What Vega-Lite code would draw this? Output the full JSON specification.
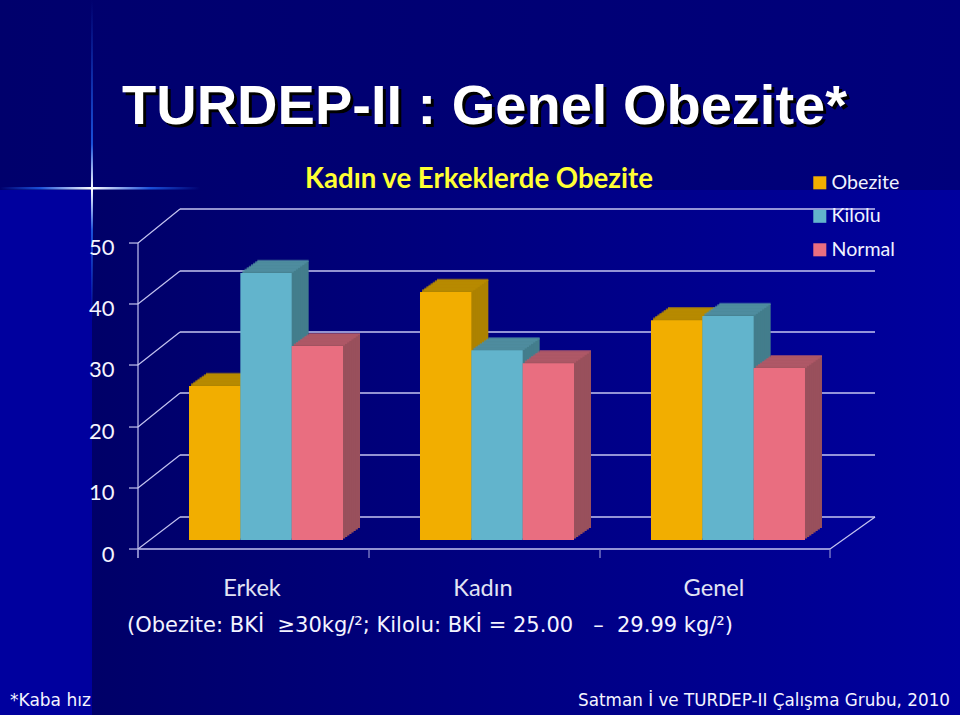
{"$schema":"https://vega.github.io/schema/vega-lite/v6.json","width":960,"height":715,"padding":0,"autosize":{"type":"fit","contains":"padding"},"background":"#000068",
"title":{"text":"TURDEP-II : Genel Obezite*","anchor":"middle","frame":"group","offset":-180,"dx":4.5,"baseline":"alphabetic","font":"Liberation Sans","fontSize":56,"fontWeight":"bold","color":"#ffffff"},
"datasets":{
"bars":[{"group":"Erkek","series":"Obezite","value":25.1},{"group":"Erkek","series":"Kilolu","value":43.5},{"group":"Erkek","series":"Normal","value":31.6},{"group":"Kadın","series":"Obezite","value":40.4},{"group":"Kadın","series":"Kilolu","value":30.9},{"group":"Kadın","series":"Normal","value":28.8},{"group":"Genel","series":"Obezite","value":35.8},{"group":"Genel","series":"Kilolu","value":36.5},{"group":"Genel","series":"Normal","value":28.0}],
"ticks":[{"v":0,"front":-1.47,"back":3.75},{"v":10,"front":8.47,"back":13.84},{"v":20,"front":18.4,"back":23.94},{"v":30,"front":28.5,"back":33.88},{"v":40,"front":38.44,"back":43.81},{"v":50,"front":48.37,"back":53.91}],
"edges":[{"edge":-0.5541},{"edge":0.4459},{"edge":1.4459},{"edge":2.4416}]},
"resolve":{"scale":{"x":"independent","color":"independent"},"axis":{"x":"independent","y":"independent"}},
"layer":[
{"resolve":{"axis":{"x":"independent","y":"independent"}},"layer":[
{"data":{"values":[{"p":"top"}]},"mark":{"type":"rect","fill":{"gradient":"linear","x1":0,"x2":1,"y1":0,"y2":0,"stops":[{"offset":0,"color":"#00006c"},{"offset":1,"color":"#00007c"}]}},"encoding":{"x":{"datum":-1.1515,"type":"quantitative","scale":{"domain":[-1.1515,3.0043],"nice":false,"zero":false},"axis":null},"x2":{"datum":3.0043},"y":{"datum":87.95,"type":"quantitative","scale":{"domain":[-28.5,87.95],"nice":false,"zero":false},"axis":null},"y2":{"datum":57}}},
{"data":{"values":[{"p":"left"}]},"mark":{"type":"rect","fill":"#00009e"},"encoding":{"x":{"datum":-1.1515,"type":"quantitative","scale":{"domain":[-1.1515,3.0043],"nice":false,"zero":false},"axis":null},"x2":{"datum":-0.7532},"y":{"datum":57,"type":"quantitative","scale":{"domain":[-28.5,87.95],"nice":false,"zero":false},"axis":null},"y2":{"datum":-28.5}}},
{"data":{"values":[{"p":"main"}]},"mark":{"type":"rect","fill":{"gradient":"linear","x1":0,"x2":1,"y1":0,"y2":0,"stops":[{"offset":0,"color":"#000068"},{"offset":1,"color":"#00009e"}]}},"encoding":{"x":{"datum":-0.7532,"type":"quantitative","scale":{"domain":[-1.1515,3.0043],"nice":false,"zero":false},"axis":null},"x2":{"datum":3.0043},"y":{"datum":57,"type":"quantitative","scale":{"domain":[-28.5,87.95],"nice":false,"zero":false},"axis":null},"y2":{"datum":-28.5}}},
{"data":{"values":[{"p":"glow-h"}]},"mark":{"type":"rect","fill":{"gradient":"linear","x1":0,"x2":1,"y1":0,"y2":0,"stops":[{"offset":0,"color":"rgba(26,80,216,0)"},{"offset":0.2,"color":"#1a50d8"},{"offset":0.46,"color":"#ffffff"},{"offset":0.75,"color":"#1a50d8"},{"offset":1,"color":"rgba(26,80,216,0)"}]}},"encoding":{"x":{"datum":-1.1515,"type":"quantitative","scale":{"domain":[-1.1515,3.0043],"nice":false,"zero":false},"axis":null},"x2":{"datum":-0.2857},"y":{"datum":57.49,"type":"quantitative","scale":{"domain":[-28.5,87.95],"nice":false,"zero":false},"axis":null},"y2":{"datum":57.1}}},
{"data":{"values":[{"p":"glow-v"}]},"mark":{"type":"rect","fill":{"gradient":"linear","x1":0,"x2":0,"y1":0,"y2":1,"stops":[{"offset":0,"color":"rgba(26,80,216,0)"},{"offset":0.45,"color":"#1a50d8"},{"offset":0.59,"color":"#ffffff"},{"offset":0.72,"color":"#1a50d8"},{"offset":1,"color":"rgba(26,80,216,0)"}]}},"encoding":{"x":{"datum":-0.7576,"type":"quantitative","scale":{"domain":[-1.1515,3.0043],"nice":false,"zero":false},"axis":null},"x2":{"datum":-0.7489},"y":{"datum":87.95,"type":"quantitative","scale":{"domain":[-28.5,87.95],"nice":false,"zero":false},"axis":null},"y2":{"datum":35.8}}},
{"data":{"name":"ticks"},"mark":{"type":"rule","stroke":"#c4c4f0","strokeWidth":1.4},"encoding":{"x":{"datum":-0.3723,"type":"quantitative","scale":{"domain":[-1.1515,3.0043],"nice":false,"zero":false},"axis":null},"x2":{"datum":2.6364},"y":{"field":"back","type":"quantitative","scale":{"domain":[-28.5,87.95],"nice":false,"zero":false},"axis":null}}},
{"data":{"name":"ticks"},"mark":{"type":"rule","stroke":"#c4c4f0","strokeWidth":1.2},"encoding":{"x":{"datum":-0.5541,"type":"quantitative","scale":{"domain":[-1.1515,3.0043],"nice":false,"zero":false},"axis":null},"x2":{"datum":-0.3723},"y":{"field":"front","type":"quantitative","scale":{"domain":[-28.5,87.95],"nice":false,"zero":false},"axis":null},"y2":{"field":"back"}}},
{"data":{"name":"ticks"},"mark":{"type":"rule","stroke":"#c4c4f0","strokeWidth":1.2},"encoding":{"x":{"datum":-0.5931,"type":"quantitative","scale":{"domain":[-1.1515,3.0043],"nice":false,"zero":false},"axis":null},"x2":{"datum":-0.5541},"y":{"field":"front","type":"quantitative","scale":{"domain":[-28.5,87.95],"nice":false,"zero":false},"axis":null}}},
{"data":{"name":"ticks"},"mark":{"type":"rule","opacity":0},"encoding":{"y":{"field":"v","type":"quantitative","scale":{"domain":[-28.5,87.95],"nice":false,"zero":false},"axis":{"values":[0,10,20,30,40,50],"orient":"left","offset":-114,"zindex":1,"domain":false,"ticks":false,"grid":false,"title":null,"labelPadding":0,"labelOffset":14,"labelFont":"Lato","labelFontSize":22,"labelColor":"#f4f4ff"}}}},
{"data":{"values":[{"p":"wall"}]},"mark":{"type":"rule","stroke":"#c4c4f0","strokeWidth":1.2},"encoding":{"x":{"datum":-0.5541,"type":"quantitative","scale":{"domain":[-1.1515,3.0043],"nice":false,"zero":false},"axis":null},"y":{"datum":48.37,"type":"quantitative","scale":{"domain":[-28.5,87.95],"nice":false,"zero":false},"axis":null},"y2":{"datum":-2.93}}},
{"data":{"values":[{"p":"floor"}]},"mark":{"type":"rule","stroke":"#c4c4f0","strokeWidth":1.4},"encoding":{"x":{"datum":-0.5541,"type":"quantitative","scale":{"domain":[-1.1515,3.0043],"nice":false,"zero":false},"axis":null},"x2":{"datum":2.4416},"y":{"datum":-1.47,"type":"quantitative","scale":{"domain":[-28.5,87.95],"nice":false,"zero":false},"axis":null}}},
{"data":{"values":[{"p":"floor-edge"}]},"mark":{"type":"rule","stroke":"#c4c4f0","strokeWidth":1.2},"encoding":{"x":{"datum":2.4416,"type":"quantitative","scale":{"domain":[-1.1515,3.0043],"nice":false,"zero":false},"axis":null},"x2":{"datum":2.6364},"y":{"datum":-1.47,"type":"quantitative","scale":{"domain":[-28.5,87.95],"nice":false,"zero":false},"axis":null},"y2":{"datum":3.75}}},
{"data":{"name":"edges"},"mark":{"type":"rule","stroke":"#8f8fd0","strokeWidth":1.2},"encoding":{"x":{"field":"edge","type":"quantitative","scale":{"domain":[-1.1515,3.0043],"nice":false,"zero":false},"axis":null},"y":{"datum":-1.47,"type":"quantitative","scale":{"domain":[-28.5,87.95],"nice":false,"zero":false},"axis":null},"y2":{"datum":-2.93}}},
{"data":{"values":[{"note":"TURDEP-II : Genel Obezite*"}]},"mark":{"type":"text","font":"Liberation Sans","fontSize":56,"fontWeight":"bold","fill":"#000000","align":"center","baseline":"alphabetic"},"encoding":{"x":{"datum":0.9589,"type":"quantitative","scale":{"domain":[-1.1515,3.0043],"nice":false,"zero":false},"axis":null},"y":{"datum":67.26,"type":"quantitative","scale":{"domain":[-28.5,87.95],"nice":false,"zero":false},"axis":null},"text":{"field":"note"}}},
{"data":{"values":[{"note":"Kadın ve Erkeklerde Obezite"}]},"mark":{"type":"text","font":"Lato","fontSize":27.6,"fontWeight":"bold","fill":"#ffff33","align":"center","baseline":"middle"},"encoding":{"x":{"datum":0.9221,"type":"quantitative","scale":{"domain":[-1.1515,3.0043],"nice":false,"zero":false},"axis":null},"y":{"datum":58.63,"type":"quantitative","scale":{"domain":[-28.5,87.95],"nice":false,"zero":false},"axis":null},"text":{"field":"note"}}},
{"data":{"values":[{"note":"(Obezite: BKİ\u00a0 ≥30kg/²; Kilolu: BKİ = 25.00\u00a0\u00a0\u00a0–\u00a0\u00a029.99 kg/²)"}]},"mark":{"type":"text","font":"DejaVu Sans","fontSize":21,"fill":"#f4f4ff","align":"left","baseline":"middle"},"encoding":{"x":{"datum":-0.6017,"type":"quantitative","scale":{"domain":[-1.1515,3.0043],"nice":false,"zero":false},"axis":null},"y":{"datum":-14,"type":"quantitative","scale":{"domain":[-28.5,87.95],"nice":false,"zero":false},"axis":null},"text":{"field":"note"}}},
{"data":{"values":[{"note":"*Kaba hız"}]},"mark":{"type":"text","font":"DejaVu Sans","fontSize":17,"fill":"#f4f4ff","align":"left","baseline":"middle"},"encoding":{"x":{"datum":-1.108,"type":"quantitative","scale":{"domain":[-1.1515,3.0043],"nice":false,"zero":false},"axis":null},"y":{"datum":-26.2,"type":"quantitative","scale":{"domain":[-28.5,87.95],"nice":false,"zero":false},"axis":null},"text":{"field":"note"}}},
{"data":{"values":[{"note":"Satman İ ve TURDEP-II Çalışma Grubu, 2010"}]},"mark":{"type":"text","font":"DejaVu Sans","fontSize":16.8,"fill":"#f4f4ff","align":"right","baseline":"middle"},"encoding":{"x":{"datum":2.9610,"type":"quantitative","scale":{"domain":[-1.1515,3.0043],"nice":false,"zero":false},"axis":null},"y":{"datum":-26.2,"type":"quantitative","scale":{"domain":[-28.5,87.95],"nice":false,"zero":false},"axis":null},"text":{"field":"note"}}}
]},
{"data":{"name":"bars"},
"encoding":{"xOffset":{"field":"series","type":"nominal","scale":{"domain":["Obezite","Kilolu","Normal"],"paddingInner":0,"paddingOuter":0}},"y":{"field":"value","type":"quantitative","stack":null,"scale":{"domain":[-28.5,87.95],"nice":false,"zero":false},"axis":null}},
"resolve":{"scale":{"x":"independent","color":"independent"},"axis":{"x":"independent","y":"independent"}},
"layer":[
{"mark":{"type":"bar","yOffset":-12,"y2Offset":-12},"encoding":{"x":{"field":"group","type":"nominal","scale":{"domain":["Erkek","Kadın","Genel"],"range":[167.5,860.5],"paddingInner":0.3333,"paddingOuter":0.1667},"axis":null},"y2":{"datum":0},"color":{"field":"series","type":"nominal","scale":{"domain":["Obezite","Kilolu","Normal"],"range":["#ad8200","#437d8c","#99505c"]},"legend":null}}},
{"mark":{"type":"tick","size":51.33,"thickness":2.2,"yOffset":-12},"encoding":{"x":{"field":"group","type":"nominal","scale":{"domain":["Erkek","Kadın","Genel"],"range":[167.5,860.5],"paddingInner":0.3333,"paddingOuter":0.1667},"axis":null},"color":{"field":"series","type":"nominal","scale":{"domain":["Obezite","Kilolu","Normal"],"range":["#b98c00","#5190a2","#b35a6a"]},"legend":null}}},
{"mark":{"type":"bar","yOffset":-10.5,"y2Offset":-10.5},"encoding":{"x":{"field":"group","type":"nominal","scale":{"domain":["Erkek","Kadın","Genel"],"range":[165.375,858.375],"paddingInner":0.3333,"paddingOuter":0.1667},"axis":null},"y2":{"datum":0},"color":{"field":"series","type":"nominal","scale":{"domain":["Obezite","Kilolu","Normal"],"range":["#ad8200","#437d8c","#99505c"]},"legend":null}}},
{"mark":{"type":"tick","size":51.33,"thickness":2.2,"yOffset":-10.5},"encoding":{"x":{"field":"group","type":"nominal","scale":{"domain":["Erkek","Kadın","Genel"],"range":[165.375,858.375],"paddingInner":0.3333,"paddingOuter":0.1667},"axis":null},"color":{"field":"series","type":"nominal","scale":{"domain":["Obezite","Kilolu","Normal"],"range":["#b98c00","#5190a2","#b35a6a"]},"legend":null}}},
{"mark":{"type":"bar","yOffset":-9,"y2Offset":-9},"encoding":{"x":{"field":"group","type":"nominal","scale":{"domain":["Erkek","Kadın","Genel"],"range":[163.25,856.25],"paddingInner":0.3333,"paddingOuter":0.1667},"axis":null},"y2":{"datum":0},"color":{"field":"series","type":"nominal","scale":{"domain":["Obezite","Kilolu","Normal"],"range":["#ad8200","#437d8c","#99505c"]},"legend":null}}},
{"mark":{"type":"tick","size":51.33,"thickness":2.2,"yOffset":-9},"encoding":{"x":{"field":"group","type":"nominal","scale":{"domain":["Erkek","Kadın","Genel"],"range":[163.25,856.25],"paddingInner":0.3333,"paddingOuter":0.1667},"axis":null},"color":{"field":"series","type":"nominal","scale":{"domain":["Obezite","Kilolu","Normal"],"range":["#b98c00","#5190a2","#b35a6a"]},"legend":null}}},
{"mark":{"type":"bar","yOffset":-7.5,"y2Offset":-7.5},"encoding":{"x":{"field":"group","type":"nominal","scale":{"domain":["Erkek","Kadın","Genel"],"range":[161.125,854.125],"paddingInner":0.3333,"paddingOuter":0.1667},"axis":null},"y2":{"datum":0},"color":{"field":"series","type":"nominal","scale":{"domain":["Obezite","Kilolu","Normal"],"range":["#ad8200","#437d8c","#99505c"]},"legend":null}}},
{"mark":{"type":"tick","size":51.33,"thickness":2.2,"yOffset":-7.5},"encoding":{"x":{"field":"group","type":"nominal","scale":{"domain":["Erkek","Kadın","Genel"],"range":[161.125,854.125],"paddingInner":0.3333,"paddingOuter":0.1667},"axis":null},"color":{"field":"series","type":"nominal","scale":{"domain":["Obezite","Kilolu","Normal"],"range":["#b98c00","#5190a2","#b35a6a"]},"legend":null}}},
{"mark":{"type":"bar","yOffset":-6,"y2Offset":-6},"encoding":{"x":{"field":"group","type":"nominal","scale":{"domain":["Erkek","Kadın","Genel"],"range":[159,852],"paddingInner":0.3333,"paddingOuter":0.1667},"axis":null},"y2":{"datum":0},"color":{"field":"series","type":"nominal","scale":{"domain":["Obezite","Kilolu","Normal"],"range":["#ad8200","#437d8c","#99505c"]},"legend":null}}},
{"mark":{"type":"tick","size":51.33,"thickness":2.2,"yOffset":-6},"encoding":{"x":{"field":"group","type":"nominal","scale":{"domain":["Erkek","Kadın","Genel"],"range":[159,852],"paddingInner":0.3333,"paddingOuter":0.1667},"axis":null},"color":{"field":"series","type":"nominal","scale":{"domain":["Obezite","Kilolu","Normal"],"range":["#b98c00","#5190a2","#b35a6a"]},"legend":null}}},
{"mark":{"type":"bar","yOffset":-4.5,"y2Offset":-4.5},"encoding":{"x":{"field":"group","type":"nominal","scale":{"domain":["Erkek","Kadın","Genel"],"range":[156.875,849.875],"paddingInner":0.3333,"paddingOuter":0.1667},"axis":null},"y2":{"datum":0},"color":{"field":"series","type":"nominal","scale":{"domain":["Obezite","Kilolu","Normal"],"range":["#ad8200","#437d8c","#99505c"]},"legend":null}}},
{"mark":{"type":"tick","size":51.33,"thickness":2.2,"yOffset":-4.5},"encoding":{"x":{"field":"group","type":"nominal","scale":{"domain":["Erkek","Kadın","Genel"],"range":[156.875,849.875],"paddingInner":0.3333,"paddingOuter":0.1667},"axis":null},"color":{"field":"series","type":"nominal","scale":{"domain":["Obezite","Kilolu","Normal"],"range":["#b98c00","#5190a2","#b35a6a"]},"legend":null}}},
{"mark":{"type":"bar","yOffset":-3,"y2Offset":-3},"encoding":{"x":{"field":"group","type":"nominal","scale":{"domain":["Erkek","Kadın","Genel"],"range":[154.75,847.75],"paddingInner":0.3333,"paddingOuter":0.1667},"axis":null},"y2":{"datum":0},"color":{"field":"series","type":"nominal","scale":{"domain":["Obezite","Kilolu","Normal"],"range":["#ad8200","#437d8c","#99505c"]},"legend":null}}},
{"mark":{"type":"tick","size":51.33,"thickness":2.2,"yOffset":-3},"encoding":{"x":{"field":"group","type":"nominal","scale":{"domain":["Erkek","Kadın","Genel"],"range":[154.75,847.75],"paddingInner":0.3333,"paddingOuter":0.1667},"axis":null},"color":{"field":"series","type":"nominal","scale":{"domain":["Obezite","Kilolu","Normal"],"range":["#b98c00","#5190a2","#b35a6a"]},"legend":null}}},
{"mark":{"type":"bar","yOffset":-1.5,"y2Offset":-1.5},"encoding":{"x":{"field":"group","type":"nominal","scale":{"domain":["Erkek","Kadın","Genel"],"range":[152.625,845.625],"paddingInner":0.3333,"paddingOuter":0.1667},"axis":null},"y2":{"datum":0},"color":{"field":"series","type":"nominal","scale":{"domain":["Obezite","Kilolu","Normal"],"range":["#ad8200","#437d8c","#99505c"]},"legend":null}}},
{"mark":{"type":"tick","size":51.33,"thickness":2.2,"yOffset":-1.5},"encoding":{"x":{"field":"group","type":"nominal","scale":{"domain":["Erkek","Kadın","Genel"],"range":[152.625,845.625],"paddingInner":0.3333,"paddingOuter":0.1667},"axis":null},"color":{"field":"series","type":"nominal","scale":{"domain":["Obezite","Kilolu","Normal"],"range":["#b98c00","#5190a2","#b35a6a"]},"legend":null}}},
{"mark":{"type":"bar"},"encoding":{"x":{"field":"group","type":"nominal","scale":{"domain":["Erkek","Kadın","Genel"],"range":[150.5,843.5],"paddingInner":0.3333,"paddingOuter":0.1667},"axis":{"orient":"bottom","offset":-127,"zindex":1,"domain":false,"ticks":false,"grid":false,"title":null,"labelAngle":0,"labelPadding":0,"labelOffset":-14,"labelBaseline":"middle","labelFont":"Lato","labelFontSize":23.6,"labelColor":"#e2e4f4"}},"y2":{"datum":0},"color":{"field":"series","type":"nominal","scale":{"domain":["Obezite","Kilolu","Normal"],"range":["#f2ae00","#62b4cc","#e96e80"]},"legend":{"title":null,"orient":"none","legendX":810,"legendY":173,"symbolType":"square","symbolSize":170,"symbolStrokeWidth":0,"symbolOpacity":1,"labelFont":"Lato","labelFontSize":19.6,"labelColor":"#f0f2ff","rowPadding":12.5,"labelOffset":2}}}}
]}
],"config":{"view":{"stroke":null}}}
